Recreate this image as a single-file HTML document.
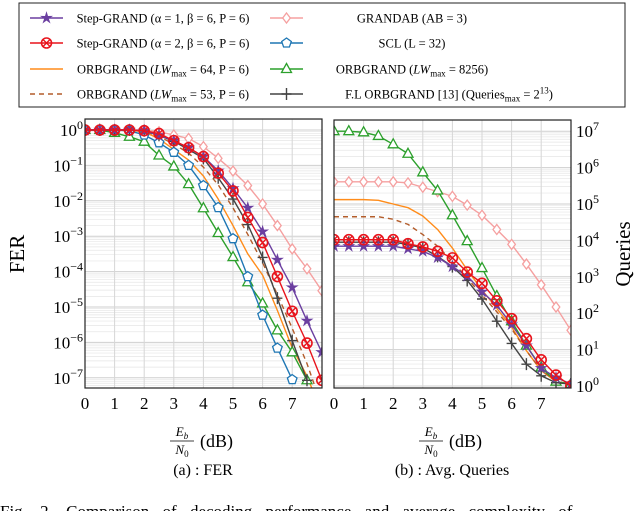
<!DOCTYPE html>
<html><head><meta charset="utf-8"><style>
body{margin:0;background:#fff;}
svg{display:block;font-family:"Liberation Serif",serif;}
</style></head><body>
<svg id="chart" width="640" height="511" viewBox="0 0 640 511" xmlns="http://www.w3.org/2000/svg">
<defs>
<clipPath id="clipL"><rect x="85" y="119" width="237" height="269"/></clipPath>
<clipPath id="clipR"><rect x="334" y="120" width="237" height="268"/></clipPath>
</defs>
<g id="gridL"></g>
<g id="gridR"></g>
<g id="seriesL" clip-path="url(#clipL)"></g>
<g id="seriesR" clip-path="url(#clipR)"></g>
<rect x="85" y="119" width="237" height="269" fill="none" stroke="#222" stroke-width="1.2"/>
<rect x="334" y="120" width="237" height="268" fill="none" stroke="#222" stroke-width="1.2"/>
<g id="ticks" font-size="17"></g>
<text transform="translate(24,254) rotate(-90)" text-anchor="middle" font-size="21">FER</text>
<text transform="translate(630,254) rotate(-90)" text-anchor="middle" font-size="21">Queries</text>
<g font-size="18">
<text x="182" y="436" font-size="13" font-style="italic" text-anchor="middle">E<tspan font-size="9" dy="3">b</tspan></text>
<line x1="170" y1="441" x2="194" y2="441" stroke="#000" stroke-width="0.8"/>
<text x="182" y="454" font-size="13" font-style="italic" text-anchor="middle">N<tspan font-size="9" font-style="normal" dy="3">0</tspan></text>
<text x="200" y="447">(dB)</text></g>
<g font-size="18">
<text x="431" y="436" font-size="13" font-style="italic" text-anchor="middle">E<tspan font-size="9" dy="3">b</tspan></text>
<line x1="419" y1="441" x2="443" y2="441" stroke="#000" stroke-width="0.8"/>
<text x="431" y="454" font-size="13" font-style="italic" text-anchor="middle">N<tspan font-size="9" font-style="normal" dy="3">0</tspan></text>
<text x="449" y="447">(dB)</text></g>
<text x="203" y="475" text-anchor="middle" font-size="16">(a) : FER</text>
<text x="452" y="475" text-anchor="middle" font-size="16">(b) : Avg. Queries</text>
<text x="0" y="517" font-size="17" word-spacing="9">Fig. 2.   Comparison of decoding performance and average complexity of</text>
<rect x="19" y="3" width="606" height="104" fill="#fff" stroke="#222" stroke-width="1"/>
<g id="legend" font-size="12.5"></g>
</svg>
<script>
const xValues=[0,0.5,1,1.5,2,2.5,3,3.5,4,4.5,5,5.5,6,6.5,7,7.5,8];
const ferTicks=[0,-1,-2,-3,-4,-5,-6,-7];
const queryTicks=[0,1,2,3,4,5,6,7];
const xTicks=[0,1,2,3,4,5,6,7];
// FER, log10 values
const ferStep1=[0,0,0,0,-0.02,-0.15,-0.3,-0.5,-0.75,-1.15,-1.65,-2.2,-2.87,-3.67,-4.45,-5.39,-6.28];
const ferStep2=[0,0,0,0,-0.02,-0.1,-0.3,-0.5,-0.75,-1.22,-1.72,-2.47,-3.18,-4.14,-5.12,-6.02,-7.07];
const ferOrb64=[0,0,0,0,-0.05,-0.25,-0.55,-0.85,-1.3,-1.95,-2.7,-3.5,-4.1,-5.1,-6.15,-6.95,-8];
const ferOrb53=[0,0,0,0,-0.03,-0.18,-0.4,-0.65,-1.05,-1.55,-2.2,-2.95,-3.75,-4.65,-5.6,-6.6,-7.8];
const ferAB=[0,0,0,0,0,-0.05,-0.14,-0.24,-0.47,-0.8,-1.16,-1.57,-2.09,-2.7,-3.36,-3.92,-4.54];
const ferSCL=[0,0,0,-0.02,-0.14,-0.36,-0.63,-1.0,-1.57,-2.19,-3.07,-4.14,-5.23,-6.16,-7.05,null,null];
const ferOrb8256=[0,0,-0.08,-0.19,-0.33,-0.72,-1.03,-1.53,-2.21,-2.91,-3.59,-4.3,-4.9,-5.66,-6.28,-7.07,null];
const ferFL=[0,0,0,0,-0.02,-0.15,-0.32,-0.55,-0.8,-1.35,-1.95,-2.67,-3.6,-4.75,-5.95,-7.07,null];
// Queries, log10 values
const qStep1=[3.84,3.84,3.84,3.84,3.84,3.77,3.7,3.53,3.28,3.02,2.59,2.22,1.69,1.11,0.49,0.23,0.06];
const qStep2=[4.02,4.02,4.02,4.02,4.02,3.91,3.82,3.7,3.52,3.13,2.82,2.34,1.85,1.3,0.72,0.3,0];
const qOrb64=[5.12,5.12,5.12,5.1,5.0,4.9,4.67,4.3,3.79,3.19,2.64,2.13,1.62,0.97,0.42,0.12,0.05];
const qOrb53=[4.65,4.65,4.65,4.65,4.58,4.44,4.16,3.84,3.42,2.96,2.5,2.04,1.57,0.97,0.43,0.14,0.04];
const qAB=[5.61,5.61,5.61,5.61,5.61,5.58,5.46,5.34,5.21,4.97,4.69,4.3,3.89,3.35,2.78,2.17,1.53];
const qOrb8256=[7.0,7.0,6.97,6.87,6.64,6.38,5.87,5.37,4.69,3.98,3.24,2.47,1.78,1.11,0.51,0.12,0.05];
const qFL=[3.95,3.95,3.95,3.95,3.95,3.89,3.79,3.56,3.28,2.9,2.39,1.78,1.17,0.6,0.28,0.09,0.05];

const NS='http://www.w3.org/2000/svg';
function mk(tag,attrs,parent){const e=document.createElementNS(NS,tag);for(const k in attrs)e.setAttribute(k,attrs[k]);parent.appendChild(e);return e;}
const xL=v=>85+v*29.6, yL=d=>130-d*35.4;
const xR=v=>334+v*29.6, yR=d=>386-d*36.4;

function grid(g,xf,yf,x0,x1,y0,y1,decs){
  for(const d of decs){for(let m=1;m<10;m++){const yy=yf(d+Math.log10(m));if(yy<y0||yy>y1)continue;
    const l=mk('line',{x1:x0,x2:x1,y1:yy,y2:yy,stroke:m==1?'#cfcfcf':'#e6e6e6','stroke-width':m==1?1:0.7},g);
    
    }}
  for(let v=1;v<8;v++){const l=mk('line',{x1:xf(v),x2:xf(v),y1:y0,y2:y1,stroke:'#d6d6d6','stroke-width':1},g);
    
    }
}
grid(document.getElementById('gridL'),xL,yL,85,322,119,388,[-8,-7,-6,-5,-4,-3,-2,-1,0]);
grid(document.getElementById('gridR'),xR,yR,334,571,120,388,[0,1,2,3,4,5,6,7]);

function marker(g,type,x,y,c){
  let e;
  if(type=='star'){let p=[];for(let i=0;i<10;i++){const r=i%2?2:5.5,a=-Math.PI/2+i*Math.PI/5;p.push((x+r*Math.cos(a)).toFixed(1)+','+(y+r*Math.sin(a)).toFixed(1));}
    e=mk('polygon',{points:p.join(' '),fill:c,stroke:c,'stroke-width':0.8},g);}
  else if(type=='otimes'){e=mk('g',{},g);mk('circle',{cx:x,cy:y,r:5,fill:'none',stroke:c,'stroke-width':1.6},e);
    mk('path',{d:`M${x-3.5},${y-3.5}L${x+3.5},${y+3.5}M${x-3.5},${y+3.5}L${x+3.5},${y-3.5}`,stroke:c,'stroke-width':1.4},e);}
  else if(type=='diamond'){e=mk('polygon',{points:`${x},${y-5} ${x+3.8},${y} ${x},${y+5} ${x-3.8},${y}`,fill:'#fff',stroke:c,'stroke-width':1.3},g);}
  else if(type=='pent'){let p=[];for(let i=0;i<5;i++){const a=-Math.PI/2+i*2*Math.PI/5;p.push((x+5*Math.cos(a)).toFixed(1)+','+(y+5*Math.sin(a)).toFixed(1));}
    e=mk('polygon',{points:p.join(' '),fill:'#fff',stroke:c,'stroke-width':1.3},g);}
  else if(type=='tri'){e=mk('polygon',{points:`${x},${y-5.5} ${x+5},${y+3.5} ${x-5},${y+3.5}`,fill:'#fff',stroke:c,'stroke-width':1.3},g);}
  else if(type=='plus'){e=mk('path',{d:`M${x-5},${y}L${x+5},${y}M${x},${y-6}L${x},${y+6}`,stroke:c,'stroke-width':1.4},g);}
  if(e){
    }
}
function series(g,name,vals,xf,yf,c,mtype,dash){
  const pts=[];vals.forEach((v,i)=>{if(v!==null)pts.push([xf(xValues[i]),yf(v)]);});
  const sg=mk('g',{},g);
  
  
  mk('polyline',{points:pts.map(p=>p.join(',')).join(' '),fill:'none',stroke:c,'stroke-width':1.4,'stroke-dasharray':dash||'none','stroke-linejoin':'round'},sg);
  if(mtype)pts.forEach(p=>marker(sg,mtype,p[0],p[1],c));
}
const C={p:'#6b3fa0',r:'#e8141c',o:'#ff8c1a',b:'#b35c2a',k:'#f5a0a0',s:'#1f77b4',g:'#2ca02c',f:'#444'};
const sL=document.getElementById('seriesL'), sR=document.getElementById('seriesR');
series(sL,'fer-orbgrand-64',ferOrb64,xL,yL,C.o,null);
series(sL,'fer-orbgrand-53',ferOrb53,xL,yL,C.b,null,'5,4');
series(sL,'fer-grandab',ferAB,xL,yL,C.k,'diamond');
series(sL,'fer-orbgrand-8256',ferOrb8256,xL,yL,C.g,'tri');
series(sL,'fer-scl',ferSCL,xL,yL,C.s,'pent');
series(sL,'fer-fl-orbgrand',ferFL,xL,yL,C.f,'plus');
series(sL,'fer-step-grand-a1',ferStep1,xL,yL,C.p,'star');
series(sL,'fer-step-grand-a2',ferStep2,xL,yL,C.r,'otimes');
series(sR,'queries-orbgrand-64',qOrb64,xR,yR,C.o,null);
series(sR,'queries-orbgrand-53',qOrb53,xR,yR,C.b,null,'5,4');
series(sR,'queries-grandab',qAB,xR,yR,C.k,'diamond');
series(sR,'queries-orbgrand-8256',qOrb8256,xR,yR,C.g,'tri');
series(sR,'queries-fl-orbgrand',qFL,xR,yR,C.f,'plus');
series(sR,'queries-step-grand-a1',qStep1,xR,yR,C.p,'star');
series(sR,'queries-step-grand-a2',qStep2,xR,yR,C.r,'otimes');

const tg=document.getElementById('ticks');
xTicks.forEach(v=>{[xL,xR].forEach(f=>{const t=mk('text',{x:f(v),y:409,'text-anchor':'middle'},tg);t.textContent=v;
  
  });});
ferTicks.forEach(d=>{const t=mk('text',{x:83,y:yL(d)+6,'text-anchor':'end'},tg);
  
  
  t.appendChild(document.createTextNode('10'));const s=mk('tspan',{'font-size':12,dy:-7},t);s.textContent=d==0?'0':'−'+(-d);});
queryTicks.forEach(d=>{const t=mk('text',{x:576,y:yR(d)+6},tg);
  
  
  t.appendChild(document.createTextNode('10'));const s=mk('tspan',{'font-size':12,dy:-7},t);s.textContent=d;});

const lg=document.getElementById('legend');
const legendItems=[
 [30,163,18,C.p,'star',null,'Step-GRAND (α = 1, β = 6, P = 6)'],
 [30,163,43,C.r,'otimes',null,'Step-GRAND (α = 2, β = 6, P = 6)'],
 [30,163,69,C.o,null,null,'ORBGRAND (LWmax = 64, P = 6)'],
 [30,163,94,C.b,null,'5,4','ORBGRAND (LWmax = 53, P = 6)'],
 [270,412,18,C.k,'diamond',null,'GRANDAB (AB = 3)'],
 [270,412,43,C.s,'pent',null,'SCL (L = 32)'],
 [270,412,69,C.g,'tri',null,'ORBGRAND (LWmax = 8256)'],
 [270,449,94,C.f,'plus',null,'F.L ORBGRAND [13] (Queriesmax = 2^13)']];
legendItems.forEach(it=>{
  const g=mk('g',{},lg);
  
  
  mk('line',{x1:it[0],x2:it[0]+33,y1:it[2],y2:it[2],stroke:it[3],'stroke-width':1.5,'stroke-dasharray':it[5]||'none'},g);
  if(it[4])marker(g,it[4],it[0]+16.5,it[2],it[3]);
  const t=mk('text',{x:it[1],y:it[2]+4.5,'text-anchor':'middle'},g);
  let s=it[6];
  if(s.indexOf('LWmax')>=0){const [a,b]=s.split('LWmax');t.appendChild(document.createTextNode(a));
    const i=mk('tspan',{'font-style':'italic'},t);i.textContent='LW';const m=mk('tspan',{'font-size':9,dy:3},t);m.textContent='max';
    const r=mk('tspan',{dy:-3},t);r.textContent=b;}
  else if(s.indexOf('Queriesmax')>=0){t.appendChild(document.createTextNode('F.L ORBGRAND [13] (Queries'));
    const m=mk('tspan',{'font-size':9,dy:3},t);m.textContent='max';const r=mk('tspan',{dy:-3},t);r.textContent=' = 2';
    const e=mk('tspan',{'font-size':9,dy:-5},t);e.textContent='13';const c=mk('tspan',{dy:5},t);c.textContent=')';}
  else t.textContent=s;
});
</script>
</body></html>
